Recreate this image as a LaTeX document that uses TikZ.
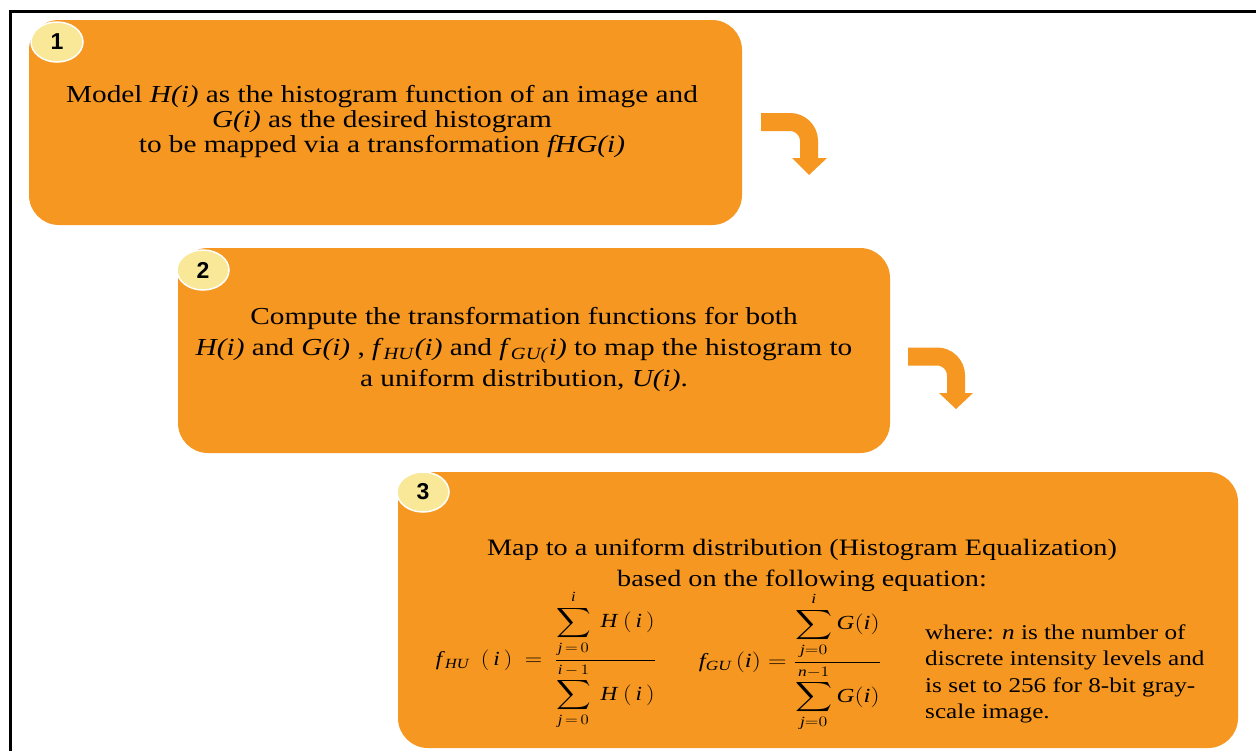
\documentclass[tikz,border=0pt]{standalone}
\usepackage{amsmath}
\usepackage{graphicx}
\usepackage{fontspec}
\setmainfont{Liberation Serif}
\newfontfamily\wideserif[FakeStretch=1.2]{Liberation Serif}
\newfontfamily\badgefont{Liberation Sans}
\usetikzlibrary{shapes.geometric}
\definecolor{boxorange}{RGB}{245,151,32}
\definecolor{badgeyellow}{RGB}{248,232,152}
\tikzset{
  stepbox/.style={fill=boxorange, draw=none, rounded corners=30pt, inner sep=0pt},
  badge/.style={ellipse, fill=badgeyellow, draw=white, line width=1.5pt,
    minimum width=52pt, minimum height=40pt, inner sep=0pt,
    font=\badgefont\bfseries\fontsize{23}{23}\selectfont},
  bodytext/.style={align=center, inner sep=0pt},
  bentband/.style={draw=boxorange, line width=18pt, rounded corners=19pt},
  benthead/.style={fill=boxorange, draw=none},
}
\begin{document}
\begin{tikzpicture}[x=1pt,y=-1pt]
\useasboundingbox (0,0) rectangle (1256,750);
\fill[white] (0,0) rectangle (1256,750);
% frame
\draw[line width=3pt] (1256,11) -- (10,11) -- (10,751);

% boxes
\node[stepbox, minimum width=713pt, minimum height=205pt] (b1) at (385.5,122.5) {};
\node[stepbox, minimum width=712pt, minimum height=205pt] (b2) at (534,350.5) {};
\node[stepbox, minimum width=840pt, minimum height=276pt] (b3) at (818,610) {};

% badges
\node[badge] (n1) at (57,42) {1};
\node[badge] (n2) at (203,270) {2};
\node[badge] (n3) at (423,492) {3};

% texts
\node[bodytext, font=\wideserif\fontsize{24.4}{25}\selectfont] (t1) at (382,122)
  {Model \textit{H(i)} as the histogram function of an image and\\
   \textit{G(i)} as the desired histogram\\
   to be mapped via a transformation \textit{fHG(i)}};
\node[bodytext, font=\wideserif\fontsize{24.4}{31}\selectfont] (t2) at (524,350)
  {Compute the transformation functions for both\\
   \textit{H(i)} and \textit{G(i)} , \textit{f}\textsubscript{\textit{HU}}\textit{(i)} and \textit{f}\textsubscript{\textit{GU(}}\textit{i)} to map the histogram to\\
   a uniform distribution, \textit{U(i)}.};
\node[bodytext, font=\wideserif\fontsize{23.5}{31}\selectfont] (t3) at (802,565)
  {Map to a uniform distribution (Histogram Equalization)\\
   based on the following equation:};

% formulas
\node[inner sep=0pt, font=\fontsize{20}{24}\selectfont] (eq1) at (546,660)
  {\scalebox{1.16}[1]{$\mathit{f}_{\,\mathit{HU}}\ \ (\,\mathit{i}\,)\ =\ \dfrac{\displaystyle\sum_{\mathit{j}\,=\,0}^{\mathit{i}}\ \mathit{H}\ (\,\mathit{i}\,)}{\displaystyle\sum_{\mathit{j}\,=\,0}^{\mathit{i}\,-\,1}\ \mathit{H}\ (\,\mathit{i}\,)}$}};
\node[inner sep=0pt, font=\fontsize{20}{24}\selectfont] (eq2) at (790,662)
  {\scalebox{1.24}[1]{$\mathit{f}_{\mathit{GU}}\,(\mathit{i}) = \dfrac{\displaystyle\sum_{\mathit{j}=0}^{\mathit{i}}\mathit{G}(\mathit{i})}{\displaystyle\sum_{\mathit{j}=0}^{\mathit{n}-1}\mathit{G}(\mathit{i})}$}};
\node[anchor=west, align=left, inner sep=0pt, font=\wideserif\fontsize{21}{26.5}\selectfont] (t4) at (925,674)
  {where: \textit{n} is the number of\\
   discrete intensity levels and\\
   is set to 256 for 8-bit gray-\\
   scale image.};

% bent arrows
\coordinate (a1s) at (761,122);
\coordinate (a1c) at (809,122);
\coordinate (a1e) at (809,159);
\draw[bentband] (a1s) -- (a1c) -- (a1e);
\fill[benthead] (792,158) -- (827,158) -- (809,175) -- cycle;
\coordinate (a2s) at (908,356.5);
\coordinate (a2c) at (956,356.5);
\coordinate (a2e) at (956,394);
\draw[bentband] (a2s) -- (a2c) -- (a2e);
\fill[benthead] (939,393) -- (973,393) -- (956,409) -- cycle;
\end{tikzpicture}
\end{document}
